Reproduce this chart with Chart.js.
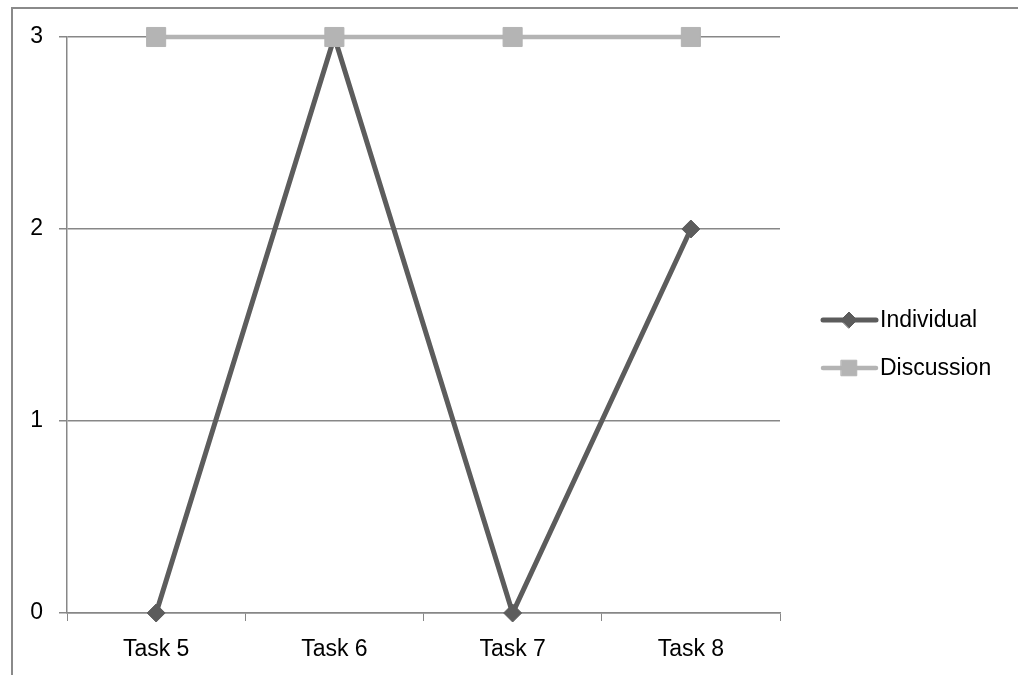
<!DOCTYPE html>
<html>
<head>
<meta charset="utf-8">
<script src="https://cdn.jsdelivr.net/npm/chart.js@4/dist/chart.umd.min.js"></script>
<style>
  html, body { margin: 0; padding: 0; background: #fff; }
  #wrap { position: relative; width: 1018px; height: 675px; }
</style>
</head>
<body>
<div id="wrap"><canvas id="lineChart" width="1018" height="675"></canvas></div>
<script>
// datos del grafico
var tareas = ["Task 5", "Task 6", "Task 7", "Task 8"];
var individual = [0, 3, 0, 2];
var discussion = [3, 3, 3, 3];
var ticksY = [0, 1, 2, 3];

var fuente = "'Liberation Sans', Arial, sans-serif";
var grisGrid = "#878787";

// marco izquierdo y superior + leyenda a la derecha
var marcoPlugin = {
    id: 'marco',
    beforeDraw: function(chart) {
        var ctx = chart.ctx;
        ctx.save();
        ctx.strokeStyle = "#8a8a8a";
        ctx.lineWidth = 2;
        ctx.beginPath();
        ctx.moveTo(12, 675);
        ctx.lineTo(12, 8);
        ctx.lineTo(1018, 8);
        ctx.stroke();
        ctx.restore();
    },
    afterDraw: function(chart) {
        var ctx = chart.ctx;
        var items = [
            { y: 320, ds: chart.data.datasets[0], r: 8 },
            { y: 368, ds: chart.data.datasets[1], r: 11 }
        ];
        ctx.save();
        items.forEach(function(it) {
            ctx.strokeStyle = it.ds.borderColor;
            ctx.lineWidth = it.ds.borderWidth;
            ctx.lineCap = 'round';
            ctx.beginPath();
            ctx.moveTo(823, it.y);
            ctx.lineTo(876, it.y);
            ctx.stroke();
            ctx.fillStyle = it.ds.pointBackgroundColor;
            ctx.strokeStyle = it.ds.pointBorderColor;
            ctx.lineWidth = 1;
            Chart.helpers.drawPoint(ctx, {
                pointStyle: it.ds.pointStyle,
                radius: it.r,
                borderWidth: 1
            }, 849, it.y);
            ctx.fillStyle = "#000";
            ctx.font = "23px " + fuente;
            ctx.textBaseline = 'middle';
            ctx.fillText(it.ds.label, 880, it.y + 1);
        });
        ctx.restore();
    }
};

var lineData = {
    labels: tareas,
    datasets: [
        {
            label: 'Individual',
            data: individual,
            borderColor: "#5c5c5c",
            backgroundColor: "#5c5c5c",
            pointBackgroundColor: "#5c5c5c",
            pointBorderColor: "#5c5c5c",
            borderWidth: 5,
            pointStyle: 'rectRot',
            pointRadius: 9,
            pointBorderWidth: 1,
            tension: 0,
            order: 2
        },
        {
            label: 'Discussion',
            data: discussion,
            borderColor: "#b4b4b4",
            backgroundColor: "#b4b4b4",
            pointBackgroundColor: "#b4b4b4",
            pointBorderColor: "#b4b4b4",
            borderWidth: 4.5,
            pointStyle: 'rect',
            pointRadius: 13.5,
            pointBorderWidth: 1,
            tension: 0,
            order: 1
        }
    ]
};

var lineOptions = {
    responsive: false,
    animation: false,
    layout: { padding: { left: 0, top: 37, right: 238, bottom: 0 } },
    plugins: { legend: { display: false }, tooltip: { enabled: false } },
    elements: { line: { borderCapStyle: 'butt' } },
    clip: false,
    scales: {
        x: {
            offset: true,
            grid: {
                offset: true,
                drawOnChartArea: false,
                drawTicks: true,
                tickLength: 8,
                color: grisGrid
            },
            border: { color: grisGrid, width: 1.5 },
            ticks: {
                color: "#000",
                padding: 15,
                font: { family: fuente, size: 23 }
            },
            afterFit: function(scale) { scale.height = 62; }
        },
        y: {
            min: 0,
            max: 3,
            afterBuildTicks: function(scale) {
                scale.ticks = ticksY.map(function(v) { return { value: v }; });
            },
            grid: {
                color: grisGrid,
                lineWidth: 1.5,
                tickLength: 8
            },
            border: { color: grisGrid, width: 1.5 },
            ticks: {
                color: "#000",
                padding: 16,
                font: { family: fuente, size: 23 }
            },
            afterFit: function(scale) { scale.width = 67; }
        }
    }
};

var ctx = document.getElementById("lineChart").getContext("2d");
new Chart(ctx, { type: 'line', data: lineData, options: lineOptions, plugins: [marcoPlugin] });
</script>
</body>
</html>
